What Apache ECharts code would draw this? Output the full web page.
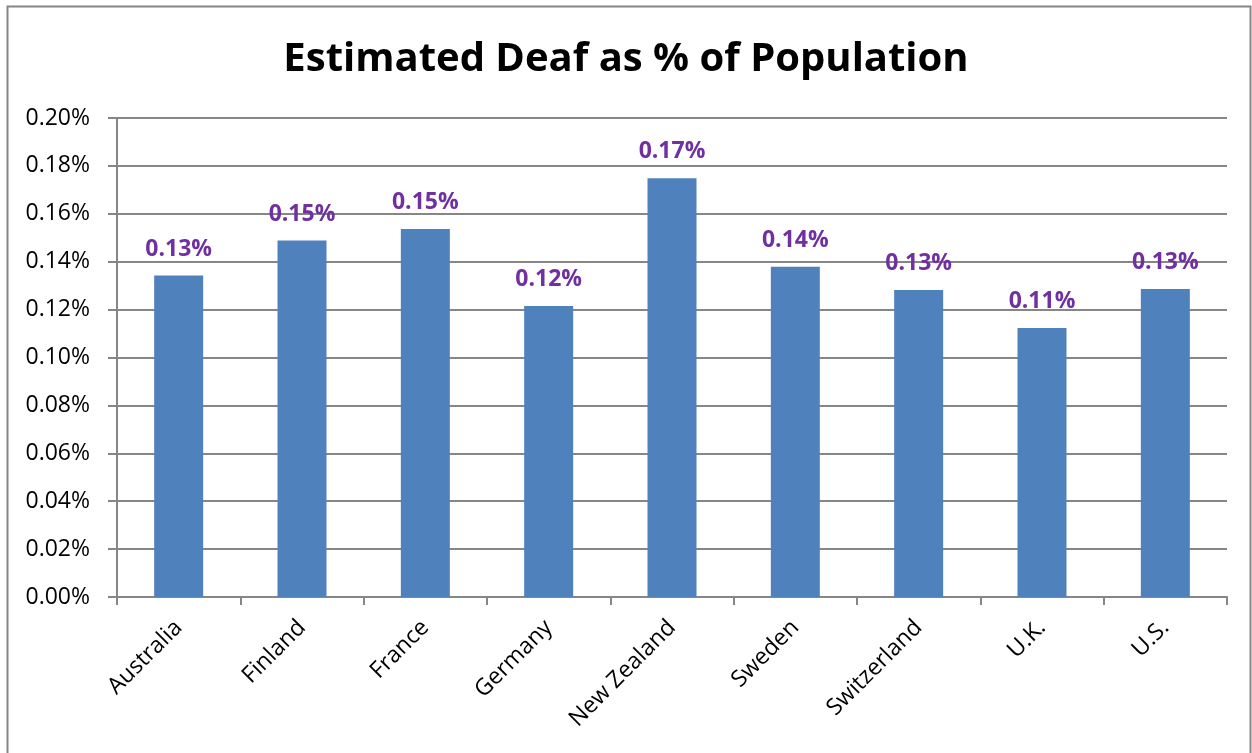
<!DOCTYPE html>
<html>
<head>
<meta charset="utf-8">
<script src="https://cdn.jsdelivr.net/npm/echarts@6/dist/echarts.min.js"></script>
<style>html,body{margin:0;padding:0;background:#fff;}#c{width:1252px;height:753px;}</style>
</head>
<body>
<div id="c"></div>
<script>
const categories = ['Australia','Finland','France','Germany','New Zealand','Sweden','Switzerland','U.K.','U.S.'];
const values = [0.1342, 0.1488, 0.1537, 0.1215, 0.1748, 0.1379, 0.1282, 0.1123, 0.1286];
const yTicks = [0, 0.02, 0.04, 0.06, 0.08, 0.10, 0.12, 0.14, 0.16, 0.18, 0.20];
const titleText = 'Estimated Deaf as % of Population';

const chart = echarts.init(document.getElementById('c'), null, {renderer: 'canvas'});
const font = '"Open Sans", "Liberation Sans", sans-serif';
chart.setOption({
  animation: false,
  backgroundColor: '#fff',
  graphic: [{
    type: 'rect', shape: {x: 7.5, y: 6.5, width: 1243, height: 760},
    style: {fill: 'none', stroke: '#868686', lineWidth: 2}, silent: true
  }],
  title: {
    text: titleText, left: 'center', top: 35,
    textStyle: {fontFamily: font, fontWeight: 'bold', fontSize: 40, color: '#000'}
  },
  grid: {left: 117, right: 25, top: 118, bottom: 156, containLabel: false},
  xAxis: {
    type: 'category', data: categories,
    axisLine: {lineStyle: {color: '#868686', width: 2}},
    axisTick: {show: true, alignWithLabel: false, length: 8, lineStyle: {color: '#868686', width: 2}},
    axisLabel: {rotate: 45, fontFamily: font, fontSize: 23, color: '#000', margin: 27, interval: 0}
  },
  yAxis: {
    type: 'value', min: 0, max: 0.2, interval: 0.02,
    axisLine: {show: true, lineStyle: {color: '#868686', width: 2}},
    axisTick: {show: true, length: 9, lineStyle: {color: '#868686', width: 2}},
    splitLine: {lineStyle: {color: '#868686', width: 2}},
    axisLabel: {fontFamily: font, fontSize: 23, color: '#000', margin: 27,
      formatter: v => v.toFixed(2) + '%'}
  },
  series: [{
    type: 'bar', data: values, barWidth: 49,
    itemStyle: {color: '#4F81BD'},
    label: {show: true, position: 'top', distance: 15,
      fontFamily: font, fontWeight: 'bold', fontSize: 23, color: '#7030A0',
      formatter: p => p.value.toFixed(2) + '%'}
  }]
});
</script>
</body>
</html>
